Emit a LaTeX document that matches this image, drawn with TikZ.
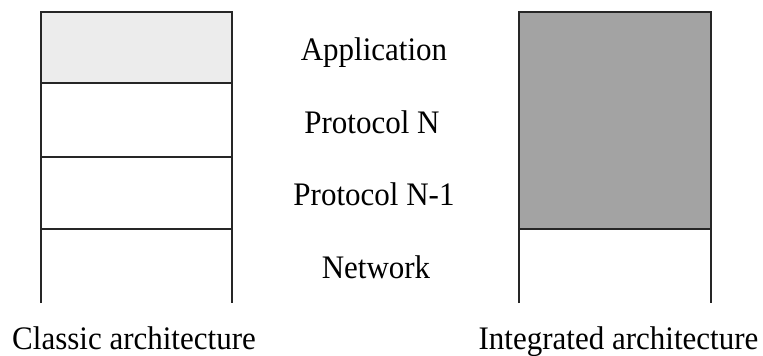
\documentclass[tikz,border=0pt]{standalone}
\usepackage{fontspec}
\usepackage{graphicx}
\setmainfont{Liberation Serif}
\definecolor{appgray}{HTML}{ECECEC}
\definecolor{intgray}{HTML}{A3A3A3}
\newcommand{\tallword}[1]{\scalebox{1}[1.06]{#1}}
\begin{document}
\begin{tikzpicture}[x=1pt,y=-1pt,
  label/.style={font=\fontsize{31}{36}\selectfont, inner sep=0pt, anchor=base},
  frame/.style={line width=1.1pt, black!85},
  sep/.style={line width=1.6pt, black!85}]
\useasboundingbox (0,0) rectangle (763,356);

% classic stack: shaded application layer and open-bottom column
\fill[appgray] (41,12) rectangle (232,83);
\draw[frame] (41,303) -- (41,12) -- (232,12) -- (232,303);
\draw[sep] (41,83) -- (232,83);
\draw[sep] (41,157) -- (232,157);
\draw[sep] (41,229) -- (232,229);

% integrated stack: one merged block above the network layer
\fill[intgray] (519,12) rectangle (711,229);
\draw[frame] (519,303) -- (519,12) -- (711,12) -- (711,303);
\draw[sep] (519,229) -- (711,229);

% layer names
\node[label] (app) at (374,60)  {\tallword{Application}};
\node[label] (pn)  at (372,133) {\tallword{Protocol N}};
\node[label] (pn1) at (374,205) {\tallword{Protocol N-1}};
\node[label] (net) at (376,278) {\tallword{Network}};

% captions
\node[label] (classic) at (134,349)   {\tallword{Classic architecture}};
\node[label] (integ)   at (618.5,349) {\tallword{Integrated architecture}};
\end{tikzpicture}
\end{document}
